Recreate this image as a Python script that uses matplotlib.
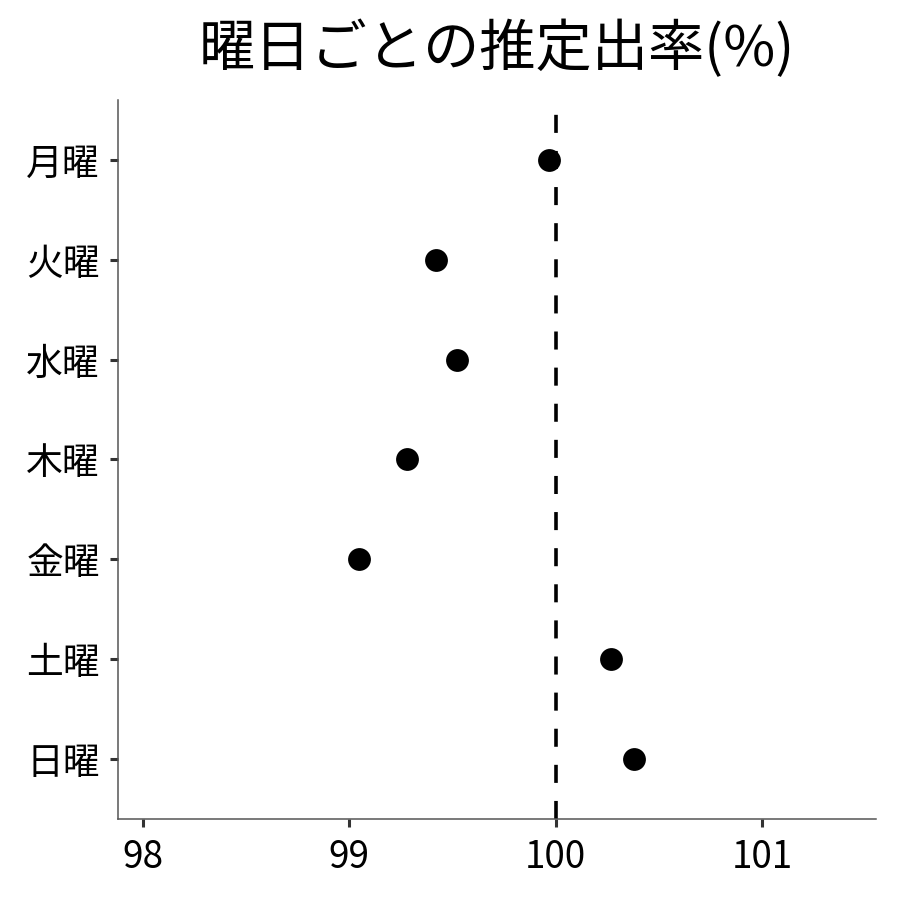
import matplotlib
matplotlib.use("Agg")
import matplotlib.pyplot as plt

plt.rcParams['font.family'] = ['Noto Sans CJK JP', 'DejaVu Sans']

days = ["月曜", "火曜", "水曜", "木曜", "金曜", "土曜", "日曜"]
rates = [99.97, 99.42, 99.52, 99.28, 99.05, 100.27, 100.38]
xticks = [98, 99, 100, 101]

fig = plt.figure(figsize=(9, 9), dpi=100)
ax = fig.add_axes([0.131, 0.09, 0.842, 0.799])

ypos = list(range(len(days)))
ax.axvline(100, color="black", linestyle=(0, (5, 5)), linewidth=2.6, zorder=1)
ax.scatter(rates, ypos, s=270, color="black", zorder=3, linewidths=0)

ax.set_xlim(97.88, 101.55)
ax.set_ylim(len(days) - 0.4, -0.6)
ax.set_yticks(ypos)
ax.set_yticklabels(days)
ax.set_xticks(xticks)
ax.set_xticklabels([str(t) for t in xticks])
ax.tick_params(axis="both", labelsize=26.5, colors="#333333", width=2.2, length=6,
               labelcolor="black")
ax.tick_params(axis="y", pad=7)
ax.tick_params(axis="x", pad=8)

for s in ["top", "right"]:
    ax.spines[s].set_visible(False)
for s in ["left", "bottom"]:
    ax.spines[s].set_color("#555555")
    ax.spines[s].set_linewidth(1.1)

ax.set_title("曜日ごとの推定出率(%)", fontsize=40.5, pad=24)

fig.savefig("out.png", dpi=100)
